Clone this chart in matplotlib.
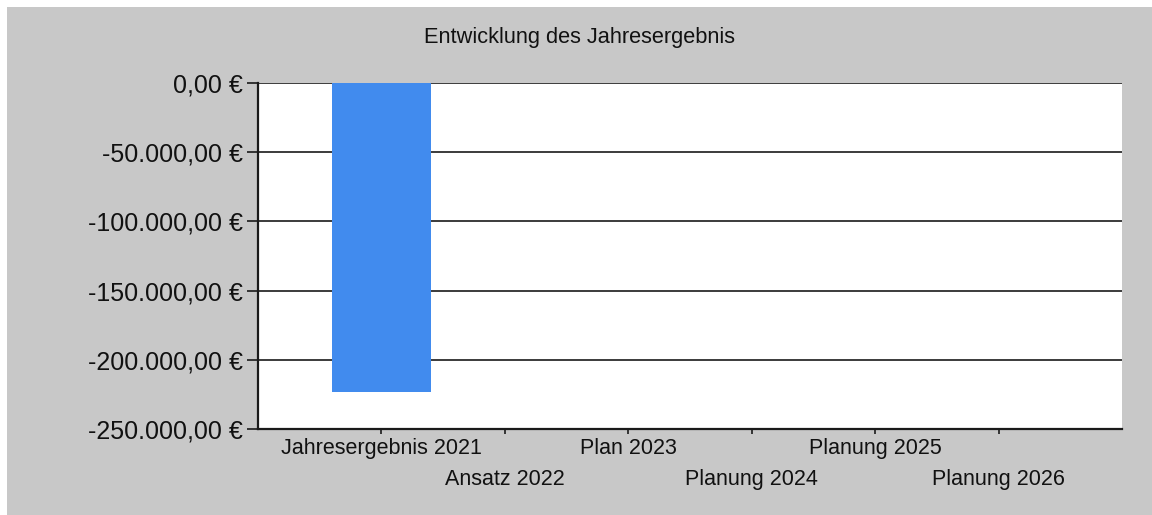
import numpy as np
import matplotlib
matplotlib.use('Agg')
import matplotlib.pyplot as plt
from matplotlib.patches import Rectangle
from matplotlib.ticker import FuncFormatter

# Daten
kategorien = ['Jahresergebnis 2021', 'Ansatz 2022', 'Plan 2023',
              'Planung 2024', 'Planung 2025', 'Planung 2026']
werte = [-223300, 0, 0, 0, 0, 0]
y_ticks = [0, -50000, -100000, -150000, -200000, -250000]

plt.rcParams['font.family'] = ['Liberation Sans', 'DejaVu Sans']

W, H = 1152, 515
fig = plt.figure(figsize=(W / 100, H / 100), dpi=100, facecolor='white')
# grauer Hintergrund mit schmalem weissem Rand oben und links
fig.patches.append(Rectangle((7 / W, 0), 1 - 7 / W, 1 - 7 / H,
                             transform=fig.transFigure, facecolor='#c8c8c8',
                             edgecolor='none', zorder=-10))

ax = fig.add_axes([258 / W, 1 - 429 / H, (1122 - 258) / W, (429 - 83) / H])
ax.set_facecolor('white')

x = np.arange(len(kategorien))
ax.bar(x, werte, width=0.8, color='#418bee', linewidth=0, zorder=3)

ax.set_xlim(-1, len(kategorien))
ax.set_ylim(min(y_ticks), max(y_ticks))


def euro(v, pos):
    s = f'{v:,.2f}'.replace(',', 'X').replace('.', ',').replace('X', '.')
    return s + ' €'


ax.set_yticks(y_ticks)
ax.yaxis.set_major_formatter(FuncFormatter(euro))
ax.grid(axis='y', color='#1a1a1a', linewidth=1.2, zorder=1)
ax.set_axisbelow(True)

# abwechselnde Beschriftung in zwei Zeilen
ax.set_xticks(x[::2])
ax.set_xticklabels(kategorien[::2])
ax.set_xticks(x[1::2], minor=True)
ax.set_xticklabels(kategorien[1::2], minor=True)

ax.tick_params(axis='y', length=8, width=1.2, color='#1a1a1a', pad=3,
               labelsize=18, labelcolor='#111111')
ax.tick_params(axis='x', which='both', length=3.6, width=1.2, color='#1a1a1a',
               labelsize=15.5, labelcolor='#111111')
ax.tick_params(axis='x', which='major', pad=3)
ax.tick_params(axis='x', which='minor', pad=25)

for side in ['top', 'right']:
    ax.spines[side].set_visible(False)
for side in ['left', 'bottom']:
    ax.spines[side].set_color('#1a1a1a')
    ax.spines[side].set_linewidth(1.6)

fig.text(580 / W, 1 - 37 / H, 'Entwicklung des Jahresergebnis',
         ha='center', va='center', fontsize=15.7, color='#111111')

fig.savefig('out.png', dpi=100, facecolor=fig.get_facecolor())
